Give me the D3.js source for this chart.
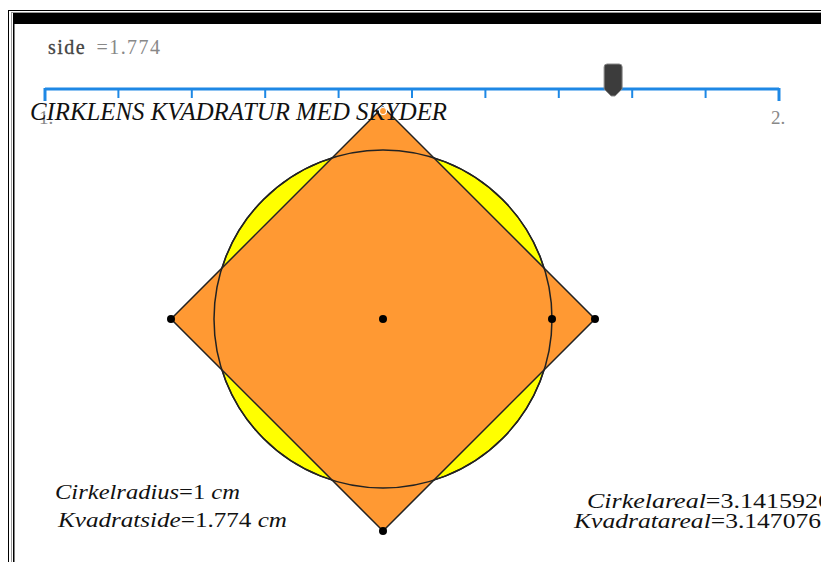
<!DOCTYPE html>
<html><head><meta charset="utf-8">
<script src="https://cdn.jsdelivr.net/npm/d3@7/dist/d3.min.js"></script>
<style>html,body{margin:0;padding:0;background:#fff;overflow:hidden}</style>
</head><body>
<script>
// ---- data ----
const sliderDomain = [1, 2];
const sliderTicks = [1, 1.1, 1.2, 1.3, 1.4, 1.5, 1.6, 1.7, 1.8, 1.9, 2];
const sliderTickLabels = ["1.", "2."];
const sideValue = [1.774];
const circleRadius = [1];
const areaLabels = ["Cirkelareal", "Kvadratareal"];
const areaValues = ["3.1415926", "3.147076"];
const title = "CIRKLENS KVADRATUR MED SKYDER";

const W = 821, H = 562;
const svg = d3.select("body").append("svg").attr("width", W).attr("height", H);

// frame
svg.append("rect").attr("x", 8.5).attr("y", 10.5).attr("width", 830).attr("height", 600).attr("fill", "none").attr("stroke", "#000").attr("stroke-width", 1);
svg.append("rect").attr("x", 11.5).attr("y", 12.5).attr("width", 830).attr("height", 600).attr("fill", "none").attr("stroke", "#999").attr("stroke-width", 1);
svg.append("rect").attr("x", 13).attr("y", 13).attr("width", 830).attr("height", 11).attr("fill", "#000");
svg.append("rect").attr("x", 13).attr("y", 13).attr("width", 1.5).attr("height", 600).attr("fill", "#000");

// slider
const sx = d3.scaleLinear().domain(sliderDomain).range([45, 779]);
const sg = svg.append("g");
sg.append("line").attr("x1", sx(1)).attr("x2", sx(2)).attr("y1", 89).attr("y2", 89).attr("stroke", "#1e88e5").attr("stroke-width", 3);
sg.selectAll("line.tk").data(sliderTicks).join("line").attr("class", "tk")
  .attr("x1", d => sx(d)).attr("x2", d => sx(d))
  .attr("y1", 88).attr("y2", (d, i) => (i === 0 || i === sliderTicks.length - 1) ? 101 : 98)
  .attr("stroke", "#1e88e5").attr("stroke-width", (d, i) => (i === 0 || i === sliderTicks.length - 1) ? 3 : 2);
sg.append("text").attr("x", sx(1) - 6).attr("y", 124).attr("font-family", "Liberation Serif").attr("font-size", 19).attr("fill", "#888").text(sliderTickLabels[0]);
sg.append("text").attr("x", sx(2) - 8).attr("y", 124).attr("font-family", "Liberation Serif").attr("font-size", 19).attr("fill", "#888").text(sliderTickLabels[1]);
// handle
const hx = sx(sideValue[0]);
sg.append("path").attr("d", `M${hx-9},67 Q${hx-9},64 ${hx-6},64 L${hx+6},64 Q${hx+9},64 ${hx+9},67 L${hx+9},89 L${hx+2},96 L${hx-2},96 L${hx-9},89 Z`)
  .attr("fill", "#3c3c3c").attr("stroke", "#888").attr("stroke-width", 1);

// side label
const sl = svg.append("text").attr("x", 48).attr("y", 54).attr("font-family", "Liberation Serif").attr("font-size", 20)
  .attr("textLength", 112).attr("lengthAdjust", "spacing");
sl.append("tspan").attr("fill", "#444").attr("stroke", "#444").attr("stroke-width", 0.3).text("side ");
sl.append("tspan").attr("fill", "#888").attr("dx", 4).text("=" + sideValue[0]);

// geometry
const cx = 383, cy = 319;
const s = d3.scaleLinear().domain([0, 1]).range([0, 169]);
const R = s(circleRadius[0]);
const half = s(sideValue[0] / Math.SQRT2);
svg.append("circle").attr("cx", cx).attr("cy", cy).attr("r", R).attr("fill", "#ffff00").attr("stroke", "#222").attr("stroke-width", 1.5);
const sq = [[cx - half, cy], [cx, cy - half], [cx + half, cy], [cx, cy + half]];
svg.append("path").attr("d", d3.line()(sq) + "Z").attr("fill", "#ff9933").attr("stroke", "#222").attr("stroke-width", 1.5);
svg.append("circle").attr("cx", cx).attr("cy", cy).attr("r", R).attr("fill", "none").attr("stroke", "#222").attr("stroke-width", 1.5);

// title (drawn over square top)
svg.append("text").attr("x", 30).attr("y", 120).attr("font-family", "Liberation Serif").attr("font-style", "italic").attr("font-size", 25)
  .attr("textLength", 417).attr("lengthAdjust", "spacingAndGlyphs").attr("fill", "#111").text(title);

// top vertex point (orange)
svg.append("circle").attr("cx", cx).attr("cy", cy - half + 4).attr("r", 3.5).attr("fill", "#ff9933").attr("stroke", "#fff").attr("stroke-width", 1.2);

// points
const pts = [[cx, cy], [cx + R, cy], [cx - half, cy], [cx + half, cy], [cx, cy + half]];
svg.selectAll("circle.pt").data(pts).join("circle").attr("class", "pt")
  .attr("cx", d => d[0]).attr("cy", d => d[1]).attr("r", 4).attr("fill", "#000");

// bottom texts
function label(x, y, len, parts) {
  const t = svg.append("text").attr("x", x).attr("y", y).attr("font-family", "Liberation Serif").attr("font-size", 22).attr("fill", "#111")
    .attr("textLength", len).attr("lengthAdjust", "spacingAndGlyphs");
  parts.forEach(p => t.append("tspan").attr("font-style", p[1] ? "italic" : "normal").text(p[0]));
}
label(55, 499, 185, [["Cirkelradius", true], ["=" + circleRadius[0] + " ", false], ["cm", true]]);
label(58, 527, 229, [["Kvadratside", true], ["=" + sideValue[0] + " ", false], ["cm", true]]);
label(587, 508, 244, [[areaLabels[0], true], ["=" + areaValues[0], false]]);
label(574, 528, 247, [[areaLabels[1], true], ["=" + areaValues[1], false]]);
</script>
</body></html>
